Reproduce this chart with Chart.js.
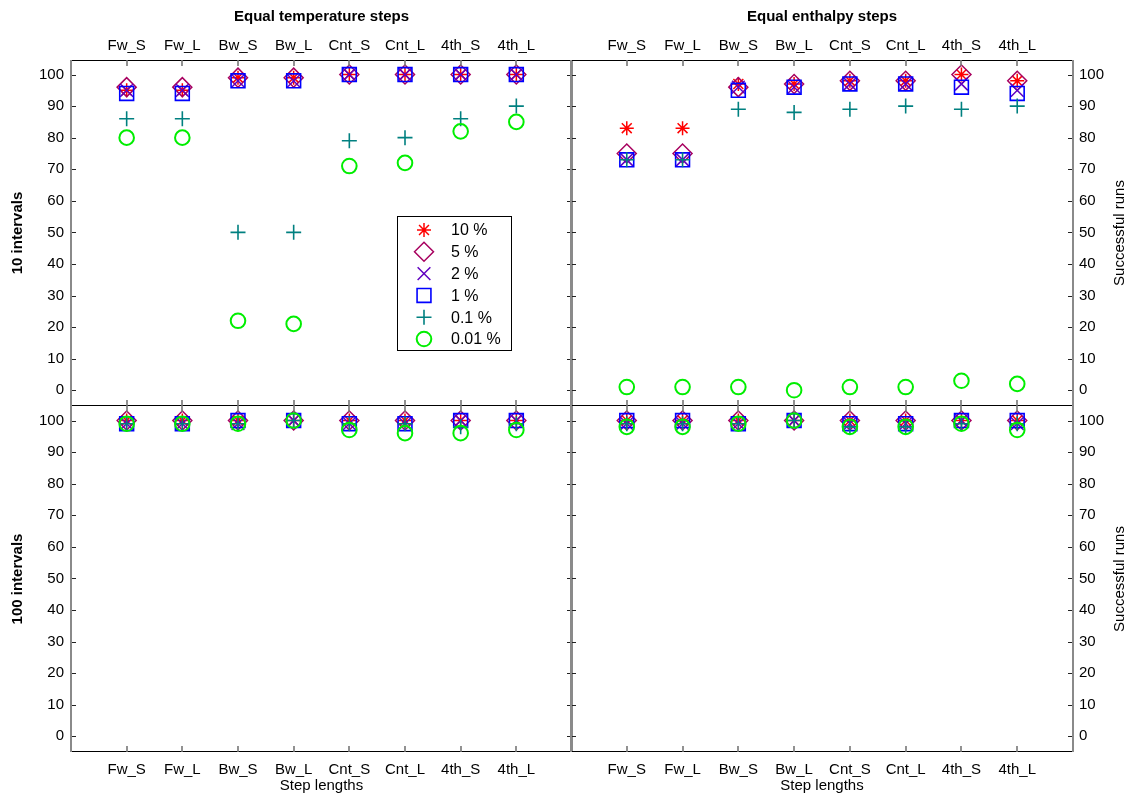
<!DOCTYPE html>
<html><head><meta charset="utf-8">
<script src="https://cdn.jsdelivr.net/npm/chart.js@4.4.1/dist/chart.umd.min.js"></script>
<style>
html,body{margin:0;padding:0;background:#fff;}
#wrap{position:relative;width:1136px;height:802px;overflow:hidden;background:#fff;}
canvas{position:absolute;}
</style></head><body>
<div id="wrap">
<canvas id="tl" width="574" height="408" style="left:0;top:0"></canvas>
<canvas id="tr" width="567" height="408" style="left:569px;top:0"></canvas>
<canvas id="bl" width="574" height="398" style="left:0;top:404px"></canvas>
<canvas id="br" width="567" height="398" style="left:569px;top:404px"></canvas>
</div>
<script>
// ---- data ----
const stepLabels = ['Fw_S','Fw_L','Bw_S','Bw_L','Cnt_S','Cnt_L','4th_S','4th_L'];
const stepPositions = [1,2,3,4,5,6,7,8];
const toleranceLabels = ['10 %','5 %','2 %','1 %','0.1 %','0.01 %'];
const successTicks = [0,10,20,30,40,50,60,70,80,90,100];

// Equal temperature steps, 10 intervals
const temp10_tol10  = [95,95,99,99,100,100,100,100];
const temp10_tol5   = [96,96,99,99,100,100,100,100];
const temp10_tol2   = [95,95,98,98,100,100,100,100];
const temp10_tol1   = [94,94,98,98,100,100,100,100];
const temp10_tol01  = [86,86,50,50,79,80,86,90];
const temp10_tol001 = [80,80,22,21,71,72,82,85];

// Equal enthalpy steps, 10 intervals
const enth10_tol10  = [83,83,97,97,98,98,100,98];
const enth10_tol5   = [75,75,96,97,98,98,100,98];
const enth10_tol2   = [73,73,96,96,97,97,97,95];
const enth10_tol1   = [73,73,95,96,97,97,96,94];
const enth10_tol01  = [73,73,89,88,89,90,89,90];
const enth10_tol001 = [1,1,1,0,1,1,3,2];

// Equal temperature steps, 100 intervals
const temp100_tol10  = [100,100,100,100,100,100,100,100];
const temp100_tol5   = [100,100,100,100,100,100,100,100];
const temp100_tol2   = [99,99,99,100,99,99,100,100];
const temp100_tol1   = [99,99,100,100,99,99,100,100];
const temp100_tol01  = [99,99,99,100,99,99,98,99];
const temp100_tol001 = [99,99,99,100,97,96,96,97];

// Equal enthalpy steps, 100 intervals
const enth100_tol10  = [100,100,100,100,100,100,100,100];
const enth100_tol5   = [100,100,100,100,100,100,100,100];
const enth100_tol2   = [99,99,99,100,99,99,100,99];
const enth100_tol1   = [100,100,99,100,99,99,100,100];
const enth100_tol01  = [99,99,99,100,98,98,99,99];
const enth100_tol001 = [98,98,99,100,98,98,99,97];

// ---- styles ----
const FONT = "'Liberation Sans', Arial, Helvetica, sans-serif";
const markers = [
  {style:'star',     color:'#ff0000', r:7,   w:1.5},
  {style:'rectRot',  color:'#a8005f', r:9.5, w:1.5},
  {style:'crossRot', color:'#6000c0', r:9,   w:1.5},
  {style:'rect',     color:'#0000ff', r:9.8, w:1.6},
  {style:'cross',    color:'#008080', r:7.5, w:1.6},
  {style:'circle',   color:'#00ee00', r:7.3, w:2}
];

function buildDatasets(series){
  return series.map((vals, k) => ({
    label: toleranceLabels[k],
    data: vals.map((v,i) => ({x: stepPositions[i], y: v})),
    pointStyle: markers[k].style,
    pointRadius: markers[k].r,
    pointHoverRadius: markers[k].r,
    pointBorderWidth: markers[k].w,
    pointBorderColor: markers[k].color,
    pointBackgroundColor: 'rgba(0,0,0,0)',
    borderColor: markers[k].color,
    backgroundColor: 'rgba(0,0,0,0)',
    showLine: false,
    order: 10 - k
  }));
}

const framePlugin = {
  id: 'frame',
  afterDraw(chart, args, opts){
    const ctx = chart.ctx, a = chart.chartArea;
    const xs = chart.scales.x, ys = chart.scales.y;
    ctx.save();
    ctx.strokeStyle = '#000'; ctx.lineWidth = 1.2;
    ctx.beginPath();
    if (opts.drawTop) { ctx.moveTo(a.left, a.top + 0.5); ctx.lineTo(a.right, a.top + 0.5); }
    ctx.moveTo(a.left, a.bottom - 0.5); ctx.lineTo(a.right, a.bottom - 0.5);
    ctx.stroke();
    ctx.strokeStyle = '#777'; ctx.lineWidth = 1.6;
    ctx.beginPath();
    stepPositions.forEach(v => {
      const px = Math.round(xs.getPixelForValue(v));
      ctx.moveTo(px, a.top); ctx.lineTo(px, a.top + 6);
      ctx.moveTo(px, a.bottom); ctx.lineTo(px, a.bottom - 6);
    });
    ctx.stroke();
    ctx.strokeStyle = '#222'; ctx.lineWidth = 1;
    ctx.beginPath();
    successTicks.forEach(v => {
      const py = Math.round(ys.getPixelForValue(v)) + 0.5;
      ctx.moveTo(a.left, py); ctx.lineTo(a.left + 5, py);
      ctx.moveTo(a.right, py); ctx.lineTo(a.right - 5, py);
    });
    ctx.stroke();
    ctx.strokeStyle = '#8a8a8a'; ctx.lineWidth = 2;
    ctx.beginPath();
    ctx.moveTo(a.left, a.top); ctx.lineTo(a.left, a.bottom);
    ctx.moveTo(a.right, a.top); ctx.lineTo(a.right, a.bottom);
    ctx.stroke();
    ctx.restore();
  }
};

const rightTitlePlugin = {
  id: 'rightTitle',
  afterDraw(chart, args, opts){
    if (!opts || !opts.text) return;
    const ctx = chart.ctx, a = chart.chartArea;
    ctx.save();
    ctx.translate(a.right + 47, (a.top + a.bottom) / 2);
    ctx.rotate(-Math.PI/2);
    ctx.font = "15px " + FONT;
    ctx.fillStyle = '#000';
    ctx.textAlign = 'center';
    ctx.textBaseline = 'middle';
    ctx.fillText(opts.text, 0, 0);
    ctx.restore();
  }
};

const legendPlugin = {
  id: 'boxLegend',
  afterDraw(chart, args, opts){
    if (!opts || !opts.show) return;
    const ctx = chart.ctx;
    ctx.save();
    const bx = 397.5, by = 216.5, bw = 114, bh = 134;
    ctx.fillStyle = '#fff';
    ctx.fillRect(bx, by, bw, bh);
    ctx.strokeStyle = '#000'; ctx.lineWidth = 1;
    ctx.strokeRect(bx, by, bw, bh);
    toleranceLabels.forEach((lab, k) => {
      const cy = 230 + k * 21.8;
      const m = markers[k];
      ctx.strokeStyle = m.color;
      ctx.fillStyle = 'rgba(0,0,0,0)';
      ctx.lineWidth = m.w;
      Chart.helpers.drawPoint(ctx, {pointStyle: m.style, radius: m.r, rotation: 0, borderWidth: m.w}, 424, cy);
      ctx.fillStyle = '#000';
      ctx.font = "16px " + FONT;
      ctx.textAlign = 'left';
      ctx.textBaseline = 'middle';
      ctx.fillText(lab, 451, cy + 1);
    });
    ctx.restore();
  }
};

function makeChart(id, series, cfg){
  const isTop = cfg.row === 'top';
  const isLeft = cfg.side === 'left';
  return new Chart(document.getElementById(id), {
    type: 'scatter',
    data: { datasets: buildDatasets(series) },
    options: {
      responsive: false,
      animation: false,
      events: [],
      layout: {
        autoPadding: false,
        padding: {
          left: isLeft ? 0 : 2,
          right: isLeft ? 2 : 0,
          top: isTop ? 0 : 2,
          bottom: isTop ? 2 : 0
        }
      },
      plugins: {
        legend: {display: false},
        tooltip: {enabled: false},
        title: {display: false},
        frame: {drawTop: isTop},
        rightTitle: {text: isLeft ? '' : 'Successful runs'},
        boxLegend: {show: !!cfg.legend}
      },
      scales: {
        x: {
          type: 'linear',
          position: isTop ? 'top' : 'bottom',
          min: 0, max: 9,
          afterBuildTicks: s => { s.ticks = stepPositions.map(v => ({value: v})); },
          afterFit: s => { s.height = isTop ? 60 : 50; s.paddingLeft = 0; s.paddingRight = 0; s.paddingTop = 0; s.paddingBottom = 0; },
          grid: {display: false, drawTicks: false},
          border: {display: false},
          ticks: {
            callback: v => stepLabels[v - 1],
            font: {family: FONT, size: 15},
            color: '#000',
            padding: isTop ? 5 : 9,
            maxRotation: 0, minRotation: 0, autoSkip: false
          },
          title: isTop
            ? {display: true, text: cfg.title, font: {family: FONT, size: 15, weight: 'bold'}, color: '#000', padding: {top: 8, bottom: 0}}
            : {display: true, text: 'Step lengths', font: {family: FONT, size: 15}, color: '#000', padding: {top: 0, bottom: 7}}
        },
        y: {
          type: 'linear',
          position: cfg.side,
          min: -5, max: 104.6,
          afterBuildTicks: s => { s.ticks = successTicks.map(v => ({value: v})); },
          afterFit: s => { s.width = isLeft ? 71 : 63; s.paddingTop = 0; s.paddingBottom = 0; s.paddingLeft = 0; s.paddingRight = 0; },
          grid: {display: false, drawTicks: false},
          border: {display: false},
          ticks: {
            font: {family: FONT, size: 15},
            color: '#000',
            padding: isLeft ? 7 : 6,
            autoSkip: false
          },
          title: isLeft
            ? {display: true, text: cfg.rowTitle, font: {family: FONT, size: 15, weight: 'bold'}, color: '#000', padding: {top: 9, bottom: 0}}
            : {display: false}
        }
      }
    },
    plugins: [framePlugin, rightTitlePlugin, legendPlugin]
  });
}

makeChart('tl', [temp10_tol10, temp10_tol5, temp10_tol2, temp10_tol1, temp10_tol01, temp10_tol001],
  {row: 'top', side: 'left', title: 'Equal temperature steps', rowTitle: '10 intervals', legend: true});
makeChart('tr', [enth10_tol10, enth10_tol5, enth10_tol2, enth10_tol1, enth10_tol01, enth10_tol001],
  {row: 'top', side: 'right', title: 'Equal enthalpy steps'});
makeChart('bl', [temp100_tol10, temp100_tol5, temp100_tol2, temp100_tol1, temp100_tol01, temp100_tol001],
  {row: 'bottom', side: 'left', rowTitle: '100 intervals'});
makeChart('br', [enth100_tol10, enth100_tol5, enth100_tol2, enth100_tol1, enth100_tol01, enth100_tol001],
  {row: 'bottom', side: 'right'});
</script>
</body></html>
